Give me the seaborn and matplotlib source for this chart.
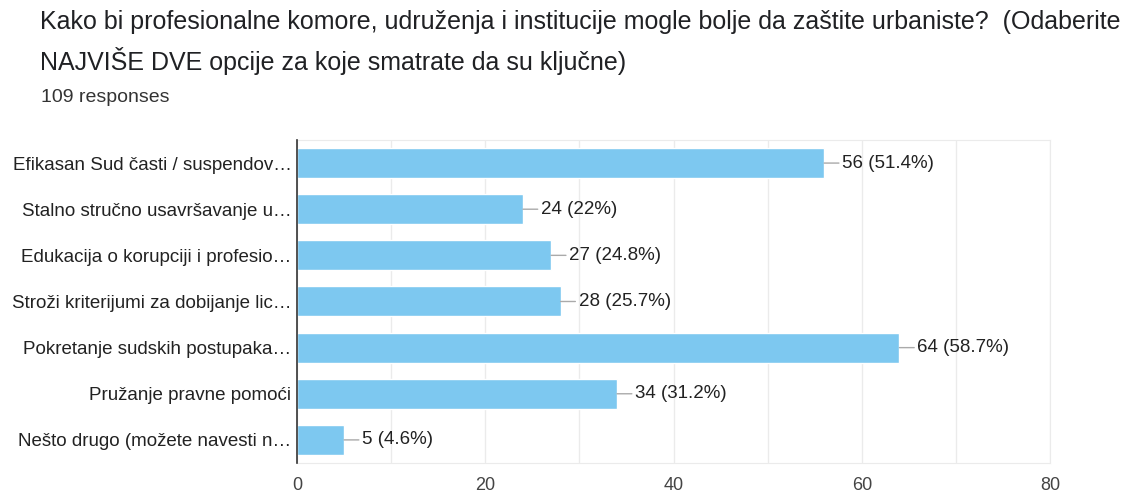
import matplotlib
matplotlib.use("Agg")
import matplotlib.pyplot as plt
import seaborn as sns
import pandas as pd

title_lines = [
    "Kako bi profesionalne komore, udruženja i institucije mogle bolje da zaštite urbaniste?  (Odaberite",
    "NAJVIŠE DVE opcije za koje smatrate da su ključne)",
]
subtitle = "109 responses"

options = [
    "Efikasan Sud časti / suspendov…",
    "Stalno stručno usavršavanje u…",
    "Edukacija o korupciji i profesio…",
    "Stroži kriterijumi za dobijanje lic…",
    "Pokretanje sudskih postupaka…",
    "Pružanje pravne pomoći",
    "Nešto drugo (možete navesti n…",
]
counts = [56, 24, 27, 28, 64, 34, 5]
percents = ["51.4%", "22%", "24.8%", "25.7%", "58.7%", "31.2%", "4.6%"]

df = pd.DataFrame({"option": options, "count": counts, "pct": percents})

sns.set_style("white")
plt.rcParams["font.family"] = ["Liberation Sans", "DejaVu Sans"]

fig = plt.figure(figsize=(11.32, 4.94), dpi=100)
ax = fig.add_axes([0.2624, 0.0628, 0.6652, 0.6538])

sns.barplot(data=df, x="count", y="option", color="#7dc8f0", width=0.65,
            saturation=1, ax=ax, zorder=3)

ax.set_xlim(0, 80)
ax.set_xticks([0, 20, 40, 60, 80])
ax.set_xticks([10, 30, 50, 70], minor=True)
ax.grid(axis="x", which="both", color="#ebebeb", lw=1, zorder=0)
ax.set_xlabel("")
ax.set_ylabel("")
ax.tick_params(axis="both", length=0)
ax.tick_params(axis="y", labelsize=13.5, labelcolor="#222222", pad=4)
ax.tick_params(axis="x", labelsize=13, labelcolor="#444444", pad=10)

for side in ["top", "right", "bottom"]:
    ax.spines[side].set_color("#ebebeb")
ax.spines["left"].set_color("#333333")
ax.spines["left"].set_linewidth(1.2)
ax.spines["left"].set_zorder(4)

for i, row in df.iterrows():
    ax.annotate(f"{row['count']} ({row['pct']})", xy=(row["count"], i),
                xytext=(13, 0), textcoords="offset points", va="center", ha="left",
                fontsize=13.5, color="#222222",
                arrowprops=dict(arrowstyle="-", color="#aaaaaa", lw=1, shrinkA=0, shrinkB=0))

fig.text(0.035, 1 - 22 / 494, title_lines[0], fontsize=18, color="#202124", va="center", ha="left")
fig.text(0.035, 1 - 61 / 494, title_lines[1], fontsize=18, color="#202124", va="center", ha="left")
fig.text(0.036, 1 - 97 / 494, subtitle, fontsize=14, color="#333333", va="center", ha="left")

fig.savefig("out.png", dpi=100)
